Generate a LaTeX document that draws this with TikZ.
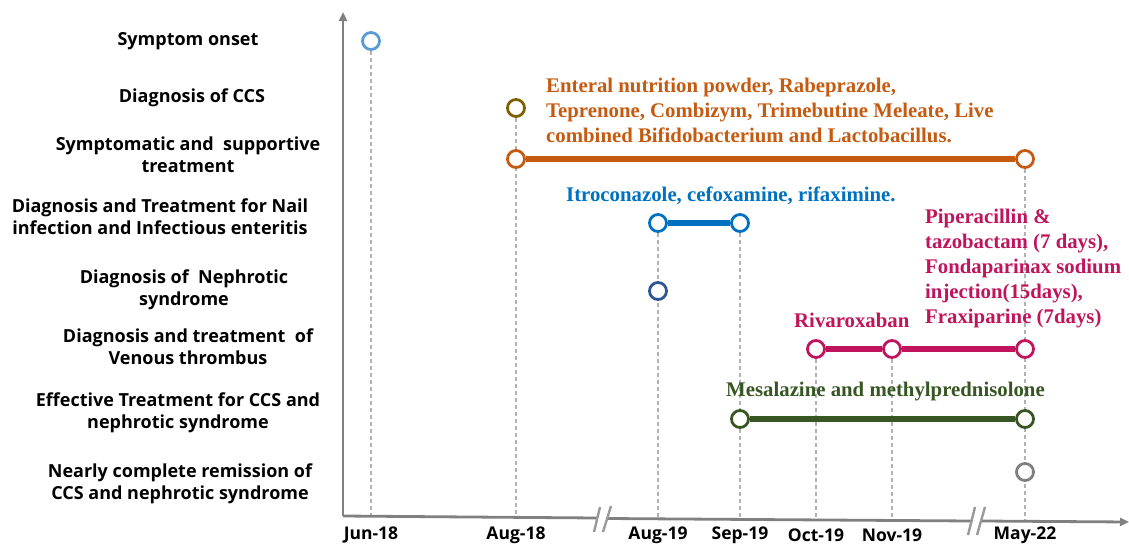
\documentclass[tikz,border=0pt]{standalone}
\usepackage{fontspec}
\setmainfont{Liberation Serif}
\setsansfont{Open Sans}
\usetikzlibrary{arrows.meta}
\pgfdeclarelayer{background}
\pgfsetlayers{background,main}
\definecolor{onsetblue}{HTML}{5B9BD5}
\definecolor{ccsbrown}{HTML}{7F6000}
\definecolor{suporange}{HTML}{C55A11}
\definecolor{nailblue}{HTML}{0070C0}
\definecolor{nephblue}{HTML}{2F5597}
\definecolor{venred}{HTML}{C0145C}
\definecolor{effgreen}{HTML}{375623}
\definecolor{remgray}{HTML}{7F7F7F}
\definecolor{axisgray}{HTML}{808080}
\tikzstyle{event}=[circle,draw,line width=2.8pt,fill=white,minimum size=17pt,inner sep=0pt]
\tikzstyle{bar}=[line width=5.5pt]
\tikzstyle{guide}=[draw=black!30,dash pattern=on 4pt off 3pt,line width=1.1pt]
\tikzstyle{axis}=[draw=axisgray,line width=2.8pt]
\tikzstyle{brk}=[draw=axisgray!80,line width=2.4pt]
\tikzstyle{rowlabel}=[font=\sffamily\bfseries\fontsize{18}{22}\selectfont,align=center,inner sep=0pt]
\tikzstyle{drug}=[font=\rmfamily\bfseries\fontsize{20.8}{25}\selectfont,align=left,anchor=west,inner sep=0pt]
\tikzstyle{date}=[font=\sffamily\bfseries\fontsize{17.5}{20}\selectfont,inner sep=0pt]
\begin{document}
\begin{tikzpicture}[x=1pt,y=-1pt]
\useasboundingbox (0,0) rectangle (1129,546);

% First we draw the events
\foreach \pos/\name/\col in {{(371,41)/onset/onsetblue}, {(516,108)/ccs/ccsbrown},
    {(516,159)/supA/suporange}, {(1025,159)/supB/suporange},
    {(658,223)/nailA/nailblue}, {(740,223)/nailB/nailblue},
    {(658,291)/neph/nephblue},
    {(816,349)/venA/venred}, {(892,349)/venB/venred}, {(1025,349)/venC/venred},
    {(740,419)/effA/effgreen}, {(1025,419)/effB/effgreen},
    {(1025,472)/remi/remgray}}
  \node[event,draw=\col] (\name) at \pos {};

% Points on the time axis
\foreach \x/\name/\txt in {371/jun18/Jun-18, 516/aug18/Aug-18, 658/aug19/Aug-19,
    740/sep19/Sep-19, 816/oct19/Oct-19, 892/nov19/Nov-19, 1025/may22/May-22}
  {
  \coordinate (\name) at (\x,{516+(\x-343)*0.0078});
  \node[date] (lbl-\name) at (\x,535) {\txt};
  }

% Axes with the two breaks
\coordinate (origin) at (343,516);
\coordinate (ytop) at (343,12);
\coordinate (xend) at (1129,522);
\draw[axis,-{Triangle[length=9pt,width=8pt]}] (origin) -- (ytop);
\draw[axis] (origin) -- (597,518);
\draw[axis] (608,518.5) -- (972,521);
\draw[axis,-{Triangle[length=9pt,width=8pt]}] (982,521) -- (xend);
\draw[brk] (594,532) -- (600,507);
\draw[brk] (603,532) -- (611,506);
\draw[brk] (968,535) -- (975,507);
\draw[brk] (977,535) -- (985,507);

% Guides and bars go behind the events
\begin{pgfonlayer}{background}
  \foreach \source/\dest in {onset/jun18, ccs/aug18, nailA/aug19, nailB/sep19,
      venA/oct19, venB/nov19, supB/may22}
    \path[guide] (\source) -- (\dest);
  \foreach \source/\dest/\col in {supA/supB/suporange, nailA/nailB/nailblue,
      venA/venB/venred, venB/venC/venred, effA/effB/effgreen}
    \draw[bar,\col] (\source) -- (\dest);
\end{pgfonlayer}

% Row labels
\node[rowlabel] (r1) at (188,41) {Symptom onset};
\node[rowlabel] (r2) at (192,98) {Diagnosis of CCS};
\node[rowlabel] (r3) at (188,155) {Symptomatic and\ \ supportive\\treatment};
\node[rowlabel] (r4) at (160,217) {Diagnosis and Treatment for Nail\\infection and Infectious enteritis};
\node[rowlabel] (r5) at (184,290) {Diagnosis of\ \ Nephrotic\\syndrome};
\node[rowlabel] (r6) at (188,347) {Diagnosis and treatment\ \ of\\Venous thrombus};
\node[rowlabel] (r7) at (178,413) {Effective Treatment for CCS and\\nephrotic syndrome};
\node[rowlabel] (r8) at (180,484) {Nearly complete remission of\\CCS and nephrotic syndrome};

% Drugs given
\node[drug,suporange] (d-sup) at (546,110) {Enteral nutrition powder, Rabeprazole,\\Teprenone, Combizym, Trimebutine Meleate, Live\\combined Bifidobacterium and Lactobacillus.};
\node[drug,nailblue] (d-nail) at (566,196) {Itroconazole, cefoxamine, rifaximine.};
\node[drug,venred] (d-ven) at (925,269) {Piperacillin \&\\tazobactam (7 days),\\Fondaparinax sodium\\injection(15days),\\Fraxiparine (7days)};
\node[drug,venred] (d-riva) at (794,320) {Rivaroxaban};
\node[drug,effgreen] (d-eff) at (726,392) {Mesalazine and methylprednisolone};
\end{tikzpicture}
\end{document}
